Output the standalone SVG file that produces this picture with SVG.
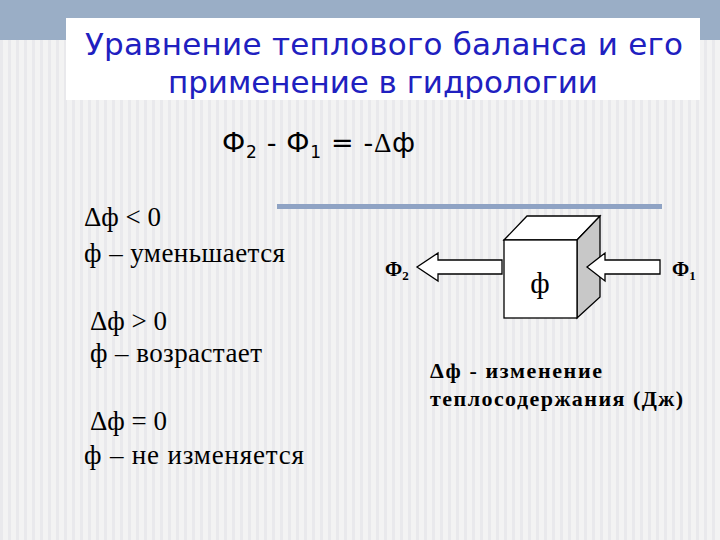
<svg xmlns="http://www.w3.org/2000/svg" width="720" height="540" viewBox="0 0 720 540">
<defs>
<pattern id="str" width="8" height="8" patternUnits="userSpaceOnUse"><rect width="8" height="8" fill="#f3f3f3"/><rect width="3" height="8" fill="#e9e9ec"/></pattern>
</defs>
<style>
.t{font-family:"Liberation Serif",serif;fill:#000}
.s{font-family:"DejaVu Sans","Liberation Sans",sans-serif}
.ln{fill:#fff;stroke:#000;stroke-width:1.3}
</style>
<rect width="720" height="540" fill="url(#str)"/>
<rect x="0" y="0" width="720" height="40" fill="#9aaec6"/>
<rect x="66" y="18" width="634" height="82" fill="#fff"/>
<g id="title" class="s" fill="#2020c0" font-size="31">
<text x="85" y="55" textLength="598" lengthAdjust="spacing">Уравнение теплового баланса и его</text>
<text x="168" y="93" textLength="430" lengthAdjust="spacing">применение в гидрологии</text>
</g>
<text id="eq" class="s" x="222" y="152" font-size="27" fill="#000" textLength="193" lengthAdjust="spacing">Ф<tspan font-size="17" dy="6">2</tspan><tspan dy="-6"> - Ф</tspan><tspan font-size="17" dy="6">1</tspan><tspan dy="-6"> = -</tspan><tspan font-family="Liberation Serif">Δ</tspan>ф</text>
<g id="left" class="t" font-size="27">
<text x="84" y="226">Δф &lt; 0</text>
<text x="84" y="262" textLength="201">ф – уменьшается</text>
<text x="90" y="330">Δф &gt; 0</text>
<text x="90" y="362" textLength="172">ф – возрастает</text>
<text x="90" y="430">Δф = 0</text>
<text x="84" y="464" textLength="220">ф –  не изменяется</text>
</g>
<rect x="277" y="204" width="385" height="5" fill="#8fa3c4"/>
<g id="cube">
<polygon class="ln" points="504,240 527,216 600,216 577,240"/>
<polygon points="577,240 600,216 600,297 577,318" fill="#c8c8c8" stroke="#000" stroke-width="1.3"/>
<rect class="ln" x="504" y="240" width="73" height="78"/>
<text class="t" x="540" y="293" font-size="30" text-anchor="middle">ф</text>
</g>
<g id="connectors">
<polygon class="ln" points="502,260 438,260 438,253 417,267 438,281 438,274 502,274"/>
<polygon class="ln" points="660,260 605,260 605,253 587,267 605,281 605,274 660,274"/>
</g>
<g class="t" font-size="20" font-weight="bold">
<text x="385" y="276">Ф<tspan font-size="13" dy="4">2</tspan></text>
<text x="672" y="276">Ф<tspan font-size="13" dy="4">1</tspan></text>
</g>
<g class="t" font-size="22" font-weight="bold">
<text x="430" y="378" textLength="172" lengthAdjust="spacing">Δф -  изменение</text>
<text x="430" y="406" textLength="253" lengthAdjust="spacing">теплосодержания  (Дж)</text>
</g>
</svg>
